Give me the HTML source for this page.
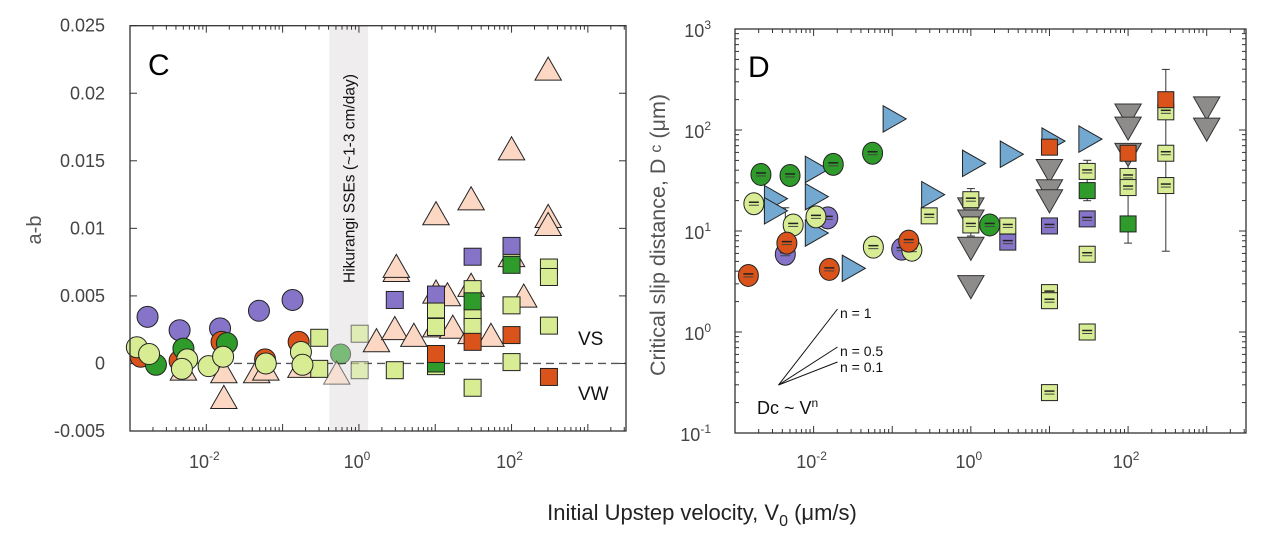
<!DOCTYPE html>
<html><head><meta charset="utf-8"><style>
body{margin:0;background:#fff;}
svg{display:block;font-family:"Liberation Sans",Arial,sans-serif;}
</style></head><body>
<svg id="fig" width="1274" height="558" viewBox="0 0 1274 558">
</svg>
<script>
// ---------- Panel C data (log10 velocity, a-b) ----------
const cPurpleCircX=[-2.77,-2.35,-1.82,-1.31,-0.87];
const cPurpleCircY=[0.00345,0.00246,0.0026,0.0039,0.0047];
const cOrangeCircX=[-2.86,-2.35,-1.80,-1.23,-0.79];
const cOrangeCircY=[0.0005,0.0002,0.0016,0.0003,0.0016];
const cGreenCircX=[-2.66,-2.30,-1.73];
const cGreenCircY=[-0.0001,0.0011,0.0015];
const cLimeCircX=[-2.91,-2.75,-2.25,-2.32,-1.97,-1.78,-1.22,-0.76,-0.74];
const cLimeCircY=[0.0012,0.0007,0.0003,-0.0004,-0.0002,0.0005,0.0,0.00085,-0.0001];
const cPeachTriX=[-2.3,-1.77,-1.77,-1.34,-1.22,-0.76,0.23,0.47,0.72,0.49,0.49,1.01,1.01,1.01,1.16,1.23,1.47,1.47,1.47,1.73,2.0,2.0,2.16,2.48,2.48,2.48];
const cPeachTriY=[-0.0005,-0.0007,-0.0026,-0.0007,-0.0005,-0.0003,0.0016,0.0025,0.002,0.0068,0.0071,0.011,0.0052,0.0027,0.005,0.0026,0.0121,0.0057,0.0022,0.002,0.0158,0.0079,0.0049,0.0217,0.0108,0.0102];
const cLimeSqX=[-0.52,-0.52,0.47,1.01,1.01,1.01,1.49,1.49,1.49,1.49,2.0,2.0,2.0,2.49,2.49,2.49];
const cLimeSqY=[0.0019,-0.0004,-0.0005,0.004,0.0027,-0.0002,0.0055,0.0035,0.0027,-0.0018,0.0081,0.0043,0.0001,0.0071,0.0064,0.0028];
const cPurpleSqX=[0.47,1.01,1.49,2.0];
const cPurpleSqY=[0.0047,0.0051,0.0079,0.0087];
const cGreenSqX=[1.01,1.49,2.0];
const cGreenSqY=[0.0,0.0046,0.0073];
const cOrangeSqX=[1.01,1.49,2.0,2.49];
const cOrangeSqY=[0.0007,0.0016,0.0021,-0.001];
const cFadedX=[-0.24,-0.29,0.01,0.01];
const cFadedY=[0.0007,-0.0008,0.0022,-0.0005];
const cYTicks=[-0.005,0,0.005,0.01,0.015,0.02,0.025];
const cYTickLabels=["-0.005","0","0.005","0.01","0.015","0.02","0.025"];
const xDecades=[-2,0,2];

// ---------- Panel D data (log10 velocity, log10 Dc) ----------
const dGreenCircX=[-2.67,-2.30,-1.75,-1.25,0.24];
const dGreenCircY=[1.56,1.55,1.66,1.77,1.06];
const dLimeCircX=[-2.76,-2.26,-1.97,-1.24,-0.75];
const dLimeCircY=[1.27,1.06,1.14,0.84,0.81];
const dPurpleCircX=[-2.36,-1.82,-0.88];
const dPurpleCircY=[0.77,1.13,0.82];
const dOrangeCircX=[-2.83,-2.34,-1.80,-0.79];
const dOrangeCircY=[0.56,0.88,0.62,0.90];
const dBlueTriX=[-2.50,-2.50,-1.98,-1.98,-1.98,-1.51,-0.99,-0.50,0.02,0.50,1.03,1.50];
const dBlueTriY=[1.32,1.20,1.61,1.34,0.98,0.63,2.11,1.36,1.67,1.76,1.89,1.91];
const dGreyTriX=[0,0,0,0,1,1,1,2,2,2,3,3];
const dGreyTriY=[1.23,1.11,0.84,0.46,1.61,1.41,1.31,2.16,2.03,1.77,2.23,2.02];
const dLimeSqX=[-0.53,0,0,0.47,1,1,1,1.48,1.48,1.48,2,2,2.48,2.48,2.48];
const dLimeSqY=[1.15,1.31,1.06,1.05,0.39,0.31,-0.60,1.59,0.77,0.0,1.54,1.43,2.18,1.77,1.45];
const dPurpleSqX=[0.47,1.0,1.48];
const dPurpleSqY=[0.89,1.05,1.12];
const dGreenSqX=[1.48,2.0];
const dGreenSqY=[1.40,1.07];
const dOrangeSqX=[1.0,2.0,2.48];
const dOrangeSqY=[1.83,1.77,2.30];
const dErrX=[2.48,2.0,1.48,0,-2.36];
const dErrLo=[0.8,0.88,1.3,0.95,0.9];
const dErrHi=[2.6,1.82,1.7,1.42,1.23];
const dYDecades=[-1,0,1,2,3];

const NS="http://www.w3.org/2000/svg";
const svg=document.getElementById('fig');
function mk(tag,attrs,parent){const e=document.createElementNS(NS,tag);for(const k in attrs)e.setAttribute(k,attrs[k]);(parent||svg).appendChild(e);return e;}

const C={x0:130,x1:626,y0:25.7,y1:431,xmin:-3,xmax:3.5,ymin:-0.005,ymax:0.025};
const D={x0:735,x1:1246,y0:29,y1:433,xmin:-3,xmax:3.5,ymin:-1,ymax:3};
const cx=v=>C.x0+(v-C.xmin)/(C.xmax-C.xmin)*(C.x1-C.x0);
const cy=v=>C.y1-(v-C.ymin)/(C.ymax-C.ymin)*(C.y1-C.y0);
const dx=v=>D.x0+(v-D.xmin)/(D.xmax-D.xmin)*(D.x1-D.x0);
const dy=v=>D.y1-(v-D.ymin)/(D.ymax-D.ymin)*(D.y1-D.y0);

const COL={purple:"#8574c7",orange:"#d9531b",green:"#2f9b2b",lime:"#d7ec93",peach:"#fcd8c4",blue:"#73a9d1",grey:"#8e8b8b"};

function logTicks(A,fx,g){
  for(let d=Math.floor(A.xmin);d<A.xmax;d++){
    for(let m=1;m<10;m++){const v=d+Math.log10(m);if(v<A.xmin||v>A.xmax)continue;
      const x=fx(v);const L=m===1?7:4;
      const t1=mk('line',{x1:x,x2:x,y1:A.y1,y2:A.y1-L,stroke:"#333","stroke-width":1},g);
      
      mk('line',{x1:x,x2:x,y1:A.y0,y2:A.y0+L,stroke:"#333","stroke-width":1},g);}
  }
}
function xLabels(fx,y,g){
  xDecades.forEach(d=>{const t=mk('text',{x:fx(d)-2,y:y,"font-size":18,fill:"#444","text-anchor":"middle"},g);
    
    t.textContent="10";const s=mk('tspan',{dy:-8,"font-size":12},t);s.textContent=String(d);});
}

// ---------- Panel C ----------
const gC=mk('g',{});
const band=mk('rect',{x:cx(Math.log10(0.41)),y:C.y0,width:cx(Math.log10(1.32))-cx(Math.log10(0.41)),height:C.y1-C.y0,fill:"#efeded"},gC);

const bt=mk('text',{transform:`translate(${cx(Math.log10(0.73))+6},283) rotate(-90)`,"font-size":15.5,fill:"#111"},gC);

bt.textContent="Hikurangi SSEs (~1-3 cm/day)";
const zl=mk('line',{x1:C.x0,x2:C.x1,y1:cy(0),y2:cy(0),stroke:"#555","stroke-width":1.3,"stroke-dasharray":"8,5"},gC);

logTicks(C,cx,gC);
cYTicks.forEach((v,i)=>{const y=cy(v);
  mk('line',{x1:C.x0,x2:C.x0+7,y1:y,y2:y,stroke:"#333"},gC);mk('line',{x1:C.x1,x2:C.x1-7,y1:y,y2:y,stroke:"#333"},gC);
  const t=mk('text',{x:C.x0-25,y:y+6,"font-size":18,fill:"#444","text-anchor":"end"},gC);
  t.textContent=cYTickLabels[i];});
xLabels(cx,468,gC);

function circle(g,x,y,col,r,op){const e=mk('ellipse',{cx:x,cy:y,rx:r,ry:r,fill:col,stroke:"#222","stroke-width":1,opacity:op||1},g);return e;}
function square(g,x,y,col,s,op){const e=mk('rect',{x:x-s/2,y:y-s/2,width:s,height:s,fill:col,stroke:"#222","stroke-width":1,opacity:op||1},g);return e;}
function triUp(g,x,y,col,s,op){const e=mk('polygon',{points:`${x},${y-s*0.6} ${x-s*0.6},${y+s*0.45} ${x+s*0.6},${y+s*0.45}`,fill:col,stroke:"#222","stroke-width":1,opacity:op||1},g);return e;}
function triDown(g,x,y,col,s){const e=mk('polygon',{points:`${x},${y+s*0.6} ${x-s*0.6},${y-s*0.45} ${x+s*0.6},${y-s*0.45}`,fill:col,stroke:"#333","stroke-width":1},g);return e;}
function triRight(g,x,y,col,s){const e=mk('polygon',{points:`${x+s*0.6},${y} ${x-s*0.45},${y-s*0.6} ${x-s*0.45},${y+s*0.6}`,fill:col,stroke:"#222","stroke-width":1},g);return e;}
function dash(g,x,y){mk('line',{x1:x-5,x2:x+5,y1:y-1.5,y2:y-1.5,stroke:"#222","stroke-width":1.5},g);mk('line',{x1:x-5,x2:x+5,y1:y+1.5,y2:y+1.5,stroke:"#444","stroke-width":1},g);}

cPeachTriX.forEach((v,i)=>triUp(gC,cx(v),cy(cPeachTriY[i]),COL.peach,22));
cLimeSqX.forEach((v,i)=>square(gC,cx(v),cy(cLimeSqY[i]),COL.lime,17));
cPurpleSqX.forEach((v,i)=>square(gC,cx(v),cy(cPurpleSqY[i]),COL.purple,17));
cGreenSqX.forEach((v,i)=>square(gC,cx(v),cy(cGreenSqY[i]),COL.green,17));
cOrangeSqX.forEach((v,i)=>square(gC,cx(v),cy(cOrangeSqY[i]),COL.orange,17));
cPurpleCircX.forEach((v,i)=>circle(gC,cx(v),cy(cPurpleCircY[i]),COL.purple,10.5));
cOrangeCircX.forEach((v,i)=>circle(gC,cx(v),cy(cOrangeCircY[i]),COL.orange,10.5));
cGreenCircX.forEach((v,i)=>circle(gC,cx(v),cy(cGreenCircY[i]),COL.green,10.5));
cLimeCircX.forEach((v,i)=>circle(gC,cx(v),cy(cLimeCircY[i]),COL.lime,10.5));
circle(gC,cx(cFadedX[0]),cy(cFadedY[0]),COL.green,10,0.6);
triUp(gC,cx(cFadedX[1]),cy(cFadedY[1]),COL.peach,22,0.6);
square(gC,cx(cFadedX[2]),cy(cFadedY[2]),COL.lime,17,0.6);
square(gC,cx(cFadedX[3]),cy(cFadedY[3]),COL.lime,17,0.6);

const fC=mk('rect',{x:C.x0,y:C.y0,width:C.x1-C.x0,height:C.y1-C.y0,fill:"none",stroke:"#333","stroke-width":1.3},gC);

let t;
t=mk('text',{x:148,y:75,"font-size":30,fill:"#000"},gC);t.textContent="C";
t=mk('text',{x:578,y:345,"font-size":19,fill:"#111"},gC);t.textContent="VS";
t=mk('text',{x:578,y:400,"font-size":19,fill:"#111"},gC);t.textContent="VW";
t=mk('text',{transform:"translate(41,230) rotate(-90)","font-size":20,fill:"#555","text-anchor":"middle"},gC);t.textContent="a-b";

// ---------- Panel D ----------
const gD=mk('g',{});
logTicks(D,dx,gD);
for(let d=-1;d<3;d++){for(let m=2;m<10;m++){const y=dy(d+Math.log10(m));
  mk('line',{x1:D.x0,x2:D.x0+4,y1:y,y2:y,stroke:"#333"},gD);mk('line',{x1:D.x1,x2:D.x1-4,y1:y,y2:y,stroke:"#333"},gD);}}
dYDecades.forEach(d=>{const y=dy(d);
  mk('line',{x1:D.x0,x2:D.x0+7,y1:y,y2:y,stroke:"#333"},gD);mk('line',{x1:D.x1,x2:D.x1-7,y1:y,y2:y,stroke:"#333"},gD);
  const tt=mk('text',{x:D.x0-24,y:y+8,"font-size":18,fill:"#444","text-anchor":"end"},gD);
  
  tt.textContent="10";const s=mk('tspan',{dy:-8,"font-size":12},tt);s.textContent=String(d);});
xLabels(dx,468,gD);

dErrX.forEach((v,i)=>{const x=dx(v);
  const e=mk('line',{x1:x,x2:x,y1:dy(dErrLo[i]),y2:dy(dErrHi[i]),stroke:"#333","stroke-width":1},gD);
  
  mk('line',{x1:x-4,x2:x+4,y1:dy(dErrLo[i]),y2:dy(dErrLo[i]),stroke:"#333"},gD);
  mk('line',{x1:x-4,x2:x+4,y1:dy(dErrHi[i]),y2:dy(dErrHi[i]),stroke:"#333"},gD);});

dGreyTriX.forEach((v,i)=>triDown(gD,dx(v),dy(dGreyTriY[i]),COL.grey,22));
dBlueTriX.forEach((v,i)=>triRight(gD,dx(v),dy(dBlueTriY[i]),COL.blue,22));
dLimeSqX.forEach((v,i)=>{square(gD,dx(v),dy(dLimeSqY[i]),COL.lime,16);dash(gD,dx(v),dy(dLimeSqY[i]));});
dPurpleSqX.forEach((v,i)=>{square(gD,dx(v),dy(dPurpleSqY[i]),COL.purple,16);dash(gD,dx(v),dy(dPurpleSqY[i]));});
dGreenSqX.forEach((v,i)=>square(gD,dx(v),dy(dGreenSqY[i]),COL.green,16));
dOrangeSqX.forEach((v,i)=>square(gD,dx(v),dy(dOrangeSqY[i]),COL.orange,16));
function dcirc(xs,ys,col){xs.forEach((v,i)=>{const e=mk('ellipse',{cx:dx(v),cy:dy(ys[i]),rx:10,ry:11,fill:col,stroke:"#222","stroke-width":1},gD);
  dash(gD,dx(v),dy(ys[i]));});}
dcirc(dPurpleCircX,dPurpleCircY,COL.purple);
dcirc(dGreenCircX,dGreenCircY,COL.green);
dcirc(dLimeCircX,dLimeCircY,COL.lime);
dcirc(dOrangeCircX,dOrangeCircY,COL.orange);

[[837.5,309],[837.5,347],[837.5,362]].forEach(p=>{const l=mk('line',{x1:778.5,y1:385,x2:p[0],y2:p[1],stroke:"#111","stroke-width":1},gD);
  });
[["n = 1",313],["n = 0.5",351],["n = 0.1",367]].forEach(a=>{const tt=mk('text',{x:840,y:a[1]+5,"font-size":14,fill:"#111"},gD);tt.textContent=a[0];});
t=mk('text',{x:757,y:414,"font-size":18,fill:"#111"},gD);
t.textContent="Dc ~ V";const sp=mk('tspan',{dy:-7,"font-size":12},t);sp.textContent="n";

const fD=mk('rect',{x:D.x0,y:D.y0,width:D.x1-D.x0,height:D.y1-D.y0,fill:"none",stroke:"#333","stroke-width":1.3},gD);

t=mk('text',{x:748,y:77,"font-size":30,fill:"#000"},gD);t.textContent="D";
t=mk('text',{transform:"translate(665,235) rotate(-90)","font-size":21.5,fill:"#555","text-anchor":"middle"},gD);
t.textContent="Critical slip distance, D ";const s2=mk('tspan',{dy:-4,"font-size":16},t);s2.textContent="c";const s3=mk('tspan',{dy:4},t);s3.textContent=" (μm)";

t=mk('text',{x:702,y:520,"font-size":22,fill:"#222","text-anchor":"middle"});
t.textContent="Initial Upstep velocity, V";const s4=mk('tspan',{dy:6,"font-size":16},t);s4.textContent="0";const s5=mk('tspan',{dy:-6},t);s5.textContent=" (μm/s)";
</script>
</body></html>
